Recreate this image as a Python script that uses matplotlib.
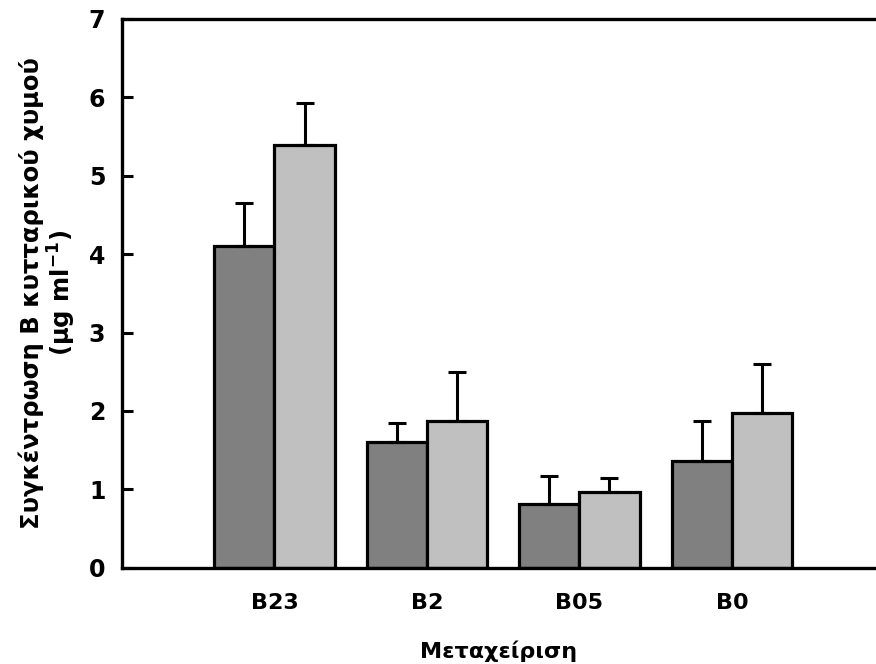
import matplotlib
matplotlib.use("Agg")
import matplotlib.pyplot as plt
import numpy as np

categories = ["B23", "B2", "B05", "B0"]
dark_vals = [4.1, 1.6, 0.82, 1.36]
dark_err = [0.55, 0.25, 0.35, 0.51]
light_vals = [5.39, 1.87, 0.97, 1.97]
light_err = [0.53, 0.63, 0.18, 0.63]

plt.rcParams['font.family'] = ['DejaVu Sans']
plt.rcParams['font.weight'] = 'bold'

fig = plt.figure(figsize=(8.76, 6.64), dpi=100)
ax = fig.add_axes([0.1393, 0.1446, 0.8607, 0.8275])

x = np.arange(1, len(categories) + 1)
w = 0.394
ekw = dict(elinewidth=2.2, capsize=6.5, capthick=2.2, ecolor='black')
ax.bar(x - w / 2, dark_vals, w, color='#808080', edgecolor='black', linewidth=2.3,
       yerr=[np.zeros(4), dark_err], error_kw=ekw, zorder=2)
ax.bar(x + w / 2, light_vals, w, color='#c0c0c0', edgecolor='black', linewidth=2.3,
       yerr=[np.zeros(4), light_err], error_kw=ekw, zorder=2)

ax.set_xlim(0, 4.945)
ax.set_ylim(0, 7)
ax.set_yticks(range(8))
ax.set_xticks(x)
ax.set_xticklabels(categories, fontsize=16, fontweight='bold')
ax.tick_params(axis='x', length=0, pad=18)
ax.tick_params(axis='y', direction='in', length=8, width=2.2, labelsize=17, pad=12)
for lab in ax.get_yticklabels():
    lab.set_fontweight('bold')

ax.spines['right'].set_visible(False)
for s in ['left', 'top', 'bottom']:
    ax.spines[s].set_linewidth(2.4)

ax.set_xlabel("Μεταχείριση", fontsize=16, fontweight='bold', labelpad=20)
ax.set_ylabel("Συγκέντρωση Β κυτταρικού χυμού\n(μg ml$^{\\mathbf{-1}}$)",
              fontsize=17.5, fontweight='bold', labelpad=8, linespacing=1.05)

fig.savefig("out.png", dpi=100)
